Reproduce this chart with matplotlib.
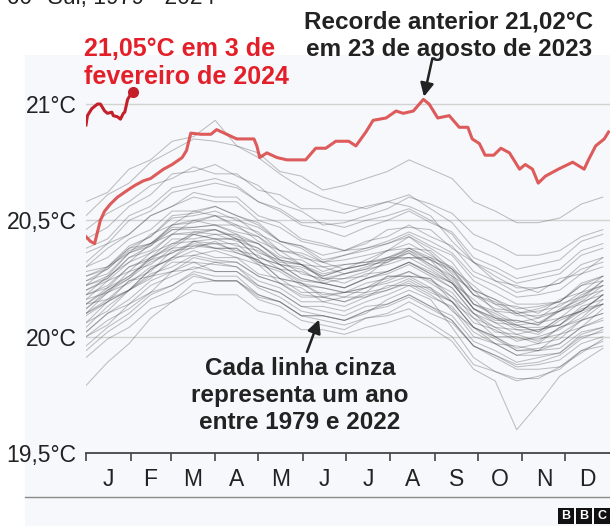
import numpy as np
import matplotlib.pyplot as plt
from matplotlib.patches import Rectangle
from matplotlib.lines import Line2D

plt.rcParams['font.family'] = ['Liberation Sans', 'DejaVu Sans']

# --- DATA ---
# grey years, sampled every 15 days
GRAY_DAYS = [0, 15, 30, 45, 60, 75, 90, 105, 120, 135, 150, 165, 180,
             195, 210, 225, 240, 255, 270, 285, 300, 315, 330, 345, 360]

sst_1979 = [20.09, 20.15, 20.20, 20.27, 20.30, 20.35, 20.33, 20.32, 20.26, 20.23, 20.17, 20.17, 20.15, 20.19, 20.21, 20.25, 20.20, 20.15, 20.04, 20.00, 19.94, 19.95, 19.97, 20.04, 20.07]
sst_1980 = [20.14, 20.20, 20.25, 20.32, 20.36, 20.40, 20.38, 20.38, 20.32, 20.29, 20.24, 20.23, 20.21, 20.25, 20.28, 20.32, 20.28, 20.23, 20.12, 20.08, 20.05, 20.02, 20.08, 20.11, 20.18]
sst_1981 = [20.02, 20.10, 20.14, 20.22, 20.26, 20.30, 20.28, 20.28, 20.22, 20.19, 20.13, 20.13, 20.11, 20.15, 20.18, 20.22, 20.17, 20.13, 20.02, 19.97, 19.92, 19.92, 19.93, 20.00, 20.02]
sst_1982 = [19.96, 20.04, 20.10, 20.18, 20.22, 20.28, 20.26, 20.26, 20.18, 20.15, 20.09, 20.07, 20.05, 20.08, 20.09, 20.12, 20.06, 20.00, 19.88, 19.85, 19.81, 19.83, 19.86, 19.94, 19.98]
sst_1983 = [20.06, 20.15, 20.20, 20.29, 20.34, 20.39, 20.38, 20.36, 20.33, 20.25, 20.23, 20.18, 20.19, 20.21, 20.24, 20.28, 20.24, 20.19, 20.08, 20.04, 19.99, 19.99, 20.01, 20.07, 20.10]
sst_1984 = [20.14, 20.16, 20.24, 20.26, 20.32, 20.32, 20.31, 20.30, 20.24, 20.21, 20.15, 20.15, 20.13, 20.17, 20.20, 20.24, 20.19, 20.15, 20.04, 19.99, 19.94, 19.94, 19.95, 20.02, 20.04]
sst_1985 = [19.79, 19.89, 19.97, 20.08, 20.15, 20.23, 20.24, 20.24, 20.16, 20.13, 20.07, 20.05, 20.03, 20.08, 20.10, 20.15, 20.10, 20.06, 19.96, 19.91, 19.86, 19.86, 19.87, 19.94, 19.96]
sst_1986 = [20.00, 20.07, 20.12, 20.19, 20.22, 20.27, 20.24, 20.24, 20.17, 20.15, 20.09, 20.09, 20.07, 20.11, 20.13, 20.17, 20.12, 20.07, 19.96, 19.92, 19.87, 19.88, 19.90, 19.97, 20.00]
sst_1987 = [20.18, 20.21, 20.30, 20.33, 20.40, 20.41, 20.42, 20.39, 20.37, 20.31, 20.30, 20.26, 20.29, 20.31, 20.32, 20.36, 20.31, 20.25, 20.14, 20.09, 20.04, 20.04, 20.05, 20.12, 20.14]
sst_1988 = [20.06, 20.11, 20.20, 20.25, 20.34, 20.35, 20.37, 20.34, 20.31, 20.23, 20.21, 20.15, 20.17, 20.17, 20.22, 20.22, 20.21, 20.11, 20.04, 19.97, 19.96, 19.94, 20.01, 20.04, 20.12]
sst_1989 = [20.10, 20.16, 20.20, 20.26, 20.28, 20.32, 20.28, 20.28, 20.21, 20.17, 20.11, 20.09, 20.07, 20.11, 20.14, 20.18, 20.13, 20.09, 19.98, 19.94, 19.89, 19.91, 19.93, 20.01, 20.04]
sst_1990 = [20.20, 20.24, 20.32, 20.36, 20.44, 20.44, 20.46, 20.42, 20.38, 20.31, 20.29, 20.23, 20.25, 20.26, 20.33, 20.34, 20.34, 20.26, 20.20, 20.11, 20.10, 20.06, 20.11, 20.14, 20.20]
sst_1991 = [20.04, 20.13, 20.20, 20.29, 20.34, 20.41, 20.40, 20.40, 20.32, 20.29, 20.23, 20.21, 20.19, 20.23, 20.25, 20.28, 20.23, 20.17, 20.06, 20.03, 19.98, 20.00, 20.03, 20.10, 20.14]
sst_1992 = [19.91, 19.99, 20.04, 20.12, 20.15, 20.20, 20.18, 20.18, 20.11, 20.09, 20.03, 20.03, 20.01, 20.04, 20.06, 20.09, 20.04, 19.98, 19.86, 19.81, 19.60, 19.71, 19.83, 19.89, 19.95]
sst_1993 = [20.00, 20.05, 20.14, 20.19, 20.28, 20.29, 20.32, 20.30, 20.22, 20.19, 20.13, 20.11, 20.09, 20.13, 20.14, 20.18, 20.13, 20.07, 19.96, 19.92, 19.88, 19.89, 19.92, 19.99, 20.03]
sst_1994 = [19.94, 20.02, 20.08, 20.16, 20.20, 20.26, 20.24, 20.24, 20.18, 20.15, 20.09, 20.09, 20.07, 20.10, 20.16, 20.20, 20.16, 20.04, 19.91, 19.85, 19.82, 19.82, 19.87, 19.93, 19.99]
sst_1995 = [20.12, 20.19, 20.23, 20.30, 20.33, 20.37, 20.34, 20.34, 20.27, 20.25, 20.19, 20.19, 20.17, 20.21, 20.23, 20.26, 20.21, 20.15, 20.04, 20.00, 19.95, 19.97, 19.99, 20.07, 20.10]
sst_1996 = [20.10, 20.19, 20.25, 20.34, 20.39, 20.45, 20.44, 20.44, 20.36, 20.33, 20.27, 20.25, 20.23, 20.27, 20.28, 20.32, 20.27, 20.21, 20.10, 20.06, 20.01, 20.03, 20.05, 20.13, 20.16]
sst_1997 = [20.22, 20.26, 20.36, 20.40, 20.48, 20.50, 20.52, 20.48, 20.45, 20.37, 20.35, 20.30, 20.31, 20.32, 20.34, 20.37, 20.31, 20.26, 20.14, 20.11, 20.06, 20.08, 20.11, 20.18, 20.22]
sst_1998 = [20.24, 20.27, 20.36, 20.39, 20.46, 20.47, 20.48, 20.44, 20.40, 20.33, 20.31, 20.25, 20.27, 20.30, 20.33, 20.38, 20.34, 20.30, 20.20, 20.16, 20.10, 20.11, 20.13, 20.19, 20.22]
sst_1999 = [20.02, 20.10, 20.16, 20.24, 20.28, 20.34, 20.32, 20.32, 20.26, 20.23, 20.18, 20.17, 20.15, 20.18, 20.20, 20.23, 20.18, 20.12, 20.00, 19.97, 19.92, 19.94, 19.97, 20.04, 20.08]
sst_2000 = [20.10, 20.15, 20.24, 20.28, 20.37, 20.38, 20.41, 20.36, 20.33, 20.25, 20.23, 20.17, 20.19, 20.19, 20.26, 20.26, 20.25, 20.17, 20.10, 20.02, 20.01, 19.98, 20.04, 20.07, 20.14]
sst_2001 = [20.16, 20.19, 20.28, 20.31, 20.38, 20.39, 20.40, 20.37, 20.35, 20.29, 20.28, 20.24, 20.27, 20.29, 20.31, 20.34, 20.29, 20.23, 20.12, 20.06, 20.05, 20.02, 20.08, 20.11, 20.18]
sst_2002 = [20.18, 20.26, 20.32, 20.40, 20.44, 20.50, 20.48, 20.48, 20.41, 20.37, 20.31, 20.30, 20.27, 20.29, 20.34, 20.34, 20.33, 20.23, 20.16, 20.08, 20.07, 20.05, 20.11, 20.15, 20.22]
sst_2003 = [20.26, 20.29, 20.37, 20.40, 20.47, 20.47, 20.48, 20.45, 20.43, 20.37, 20.36, 20.32, 20.35, 20.37, 20.40, 20.44, 20.39, 20.35, 20.24, 20.19, 20.14, 20.14, 20.15, 20.22, 20.24]
sst_2004 = [20.16, 20.24, 20.28, 20.36, 20.40, 20.44, 20.42, 20.42, 20.34, 20.31, 20.25, 20.23, 20.21, 20.25, 20.27, 20.31, 20.26, 20.21, 20.10, 20.04, 20.03, 20.01, 20.07, 20.11, 20.18]
sst_2005 = [20.24, 20.29, 20.38, 20.43, 20.52, 20.53, 20.56, 20.52, 20.48, 20.41, 20.38, 20.32, 20.33, 20.35, 20.37, 20.40, 20.35, 20.29, 20.18, 20.15, 20.10, 20.12, 20.15, 20.22, 20.26]
sst_2006 = [20.28, 20.30, 20.38, 20.40, 20.46, 20.46, 20.46, 20.43, 20.40, 20.34, 20.33, 20.28, 20.31, 20.32, 20.33, 20.36, 20.30, 20.24, 20.12, 20.07, 20.07, 20.05, 20.12, 20.16, 20.24]
sst_2007 = [20.14, 20.21, 20.26, 20.33, 20.36, 20.41, 20.38, 20.38, 20.31, 20.28, 20.22, 20.21, 20.19, 20.21, 20.26, 20.26, 20.25, 20.15, 20.08, 20.00, 20.00, 19.97, 20.04, 20.08, 20.16]
sst_2008 = [20.18, 20.22, 20.30, 20.34, 20.42, 20.42, 20.44, 20.41, 20.38, 20.32, 20.31, 20.26, 20.29, 20.33, 20.37, 20.43, 20.36, 20.27, 20.14, 20.10, 20.05, 20.06, 20.08, 20.15, 20.18]
sst_2009 = [20.22, 20.30, 20.36, 20.44, 20.48, 20.54, 20.52, 20.51, 20.44, 20.40, 20.34, 20.32, 20.29, 20.31, 20.37, 20.38, 20.37, 20.29, 20.22, 20.14, 20.13, 20.10, 20.16, 20.19, 20.26]
sst_2010 = [20.22, 20.25, 20.34, 20.37, 20.44, 20.45, 20.46, 20.42, 20.40, 20.33, 20.31, 20.27, 20.29, 20.31, 20.34, 20.38, 20.33, 20.29, 20.18, 20.14, 20.09, 20.09, 20.11, 20.17, 20.20]
sst_2011 = [20.12, 20.20, 20.26, 20.34, 20.38, 20.44, 20.42, 20.42, 20.34, 20.31, 20.25, 20.23, 20.21, 20.25, 20.28, 20.32, 20.27, 20.23, 20.12, 20.08, 20.03, 20.03, 20.05, 20.11, 20.14]
sst_2012 = [20.26, 20.30, 20.39, 20.43, 20.51, 20.52, 20.54, 20.50, 20.47, 20.41, 20.39, 20.35, 20.37, 20.38, 20.40, 20.43, 20.38, 20.32, 20.20, 20.16, 20.12, 20.13, 20.15, 20.23, 20.26]
sst_2013 = [20.20, 20.25, 20.34, 20.39, 20.48, 20.49, 20.52, 20.47, 20.43, 20.35, 20.31, 20.25, 20.25, 20.28, 20.32, 20.37, 20.33, 20.28, 20.18, 20.12, 20.11, 20.08, 20.14, 20.17, 20.24]
sst_2014 = [20.30, 20.34, 20.42, 20.46, 20.54, 20.54, 20.56, 20.52, 20.49, 20.41, 20.39, 20.33, 20.35, 20.38, 20.41, 20.45, 20.41, 20.36, 20.26, 20.22, 20.17, 20.18, 20.20, 20.27, 20.30]
sst_2015 = [20.32, 20.40, 20.44, 20.52, 20.56, 20.60, 20.58, 20.58, 20.50, 20.47, 20.41, 20.39, 20.37, 20.41, 20.43, 20.48, 20.43, 20.39, 20.28, 20.24, 20.19, 20.21, 20.23, 20.31, 20.34]
sst_2016 = [20.58, 20.62, 20.72, 20.76, 20.84, 20.86, 20.93, 20.82, 20.77, 20.70, 20.64, 20.60, 20.57, 20.55, 20.58, 20.56, 20.52, 20.41, 20.32, 20.24, 20.22, 20.19, 20.25, 20.27, 20.34]
sst_2017 = [20.38, 20.42, 20.52, 20.56, 20.64, 20.66, 20.68, 20.65, 20.58, 20.54, 20.48, 20.46, 20.43, 20.47, 20.50, 20.54, 20.49, 20.45, 20.34, 20.30, 20.25, 20.27, 20.29, 20.37, 20.40]
sst_2018 = [20.30, 20.38, 20.44, 20.52, 20.56, 20.62, 20.60, 20.60, 20.52, 20.49, 20.42, 20.40, 20.37, 20.40, 20.46, 20.47, 20.46, 20.38, 20.32, 20.26, 20.21, 20.21, 20.23, 20.29, 20.32]
sst_2019 = [20.42, 20.47, 20.56, 20.61, 20.70, 20.71, 20.74, 20.69, 20.65, 20.57, 20.54, 20.48, 20.49, 20.52, 20.55, 20.60, 20.57, 20.53, 20.44, 20.40, 20.35, 20.35, 20.37, 20.43, 20.46]
sst_2020 = [20.46, 20.53, 20.58, 20.65, 20.68, 20.73, 20.70, 20.70, 20.63, 20.61, 20.55, 20.55, 20.53, 20.56, 20.58, 20.61, 20.55, 20.49, 20.38, 20.34, 20.29, 20.31, 20.33, 20.41, 20.44]
sst_2021 = [20.36, 20.40, 20.50, 20.54, 20.62, 20.64, 20.66, 20.64, 20.58, 20.55, 20.49, 20.49, 20.47, 20.50, 20.52, 20.55, 20.50, 20.44, 20.32, 20.28, 20.23, 20.25, 20.27, 20.35, 20.38]
sst_2022 = [20.52, 20.61, 20.66, 20.75, 20.80, 20.85, 20.84, 20.82, 20.79, 20.71, 20.69, 20.63, 20.65, 20.68, 20.71, 20.76, 20.72, 20.68, 20.58, 20.54, 20.49, 20.49, 20.51, 20.57, 20.60]

GRAY_YEARS = [sst_1979, sst_1980, sst_1981, sst_1982, sst_1983, sst_1984, sst_1985,
              sst_1986, sst_1987, sst_1988, sst_1989, sst_1990, sst_1991, sst_1992,
              sst_1993, sst_1994, sst_1995, sst_1996, sst_1997, sst_1998, sst_1999,
              sst_2000, sst_2001, sst_2002, sst_2003, sst_2004, sst_2005, sst_2006,
              sst_2007, sst_2008, sst_2009, sst_2010, sst_2011, sst_2012, sst_2013,
              sst_2014, sst_2015, sst_2016, sst_2017, sst_2018, sst_2019, sst_2020,
              sst_2021, sst_2022]

days_2023 = [0, 3, 6, 10, 13, 17, 22, 29, 34, 40, 45, 54, 60, 67, 70, 73, 80, 87, 91, 98,
             105, 112, 117, 119, 121, 126, 133, 140, 144, 149, 153, 160, 167, 174, 183, 188,
             195, 200, 209, 216, 221, 228, 235, 239, 245, 253, 260, 266, 269, 274, 278, 284,
             289, 295, 302, 306, 311, 315, 320, 329, 339, 347, 350, 355, 361, 364]
sst_2023 = [20.43, 20.41, 20.40, 20.50, 20.54, 20.57, 20.60, 20.63, 20.65, 20.67, 20.68, 20.72,
            20.74, 20.77, 20.80, 20.875, 20.87, 20.87, 20.89, 20.87, 20.85, 20.85, 20.85, 20.82,
            20.77, 20.79, 20.77, 20.76, 20.76, 20.76, 20.76, 20.81, 20.81, 20.84, 20.84, 20.82,
            20.88, 20.93, 20.94, 20.97, 20.96, 20.97, 21.02, 21.00, 20.94, 20.95, 20.90, 20.90,
            20.85, 20.83, 20.78, 20.78, 20.81, 20.79, 20.72, 20.74, 20.72, 20.66, 20.69, 20.72,
            20.75, 20.72, 20.76, 20.82, 20.85, 20.88]

days_2024 = [0, 1, 4, 8, 10, 13, 15, 18, 19, 22, 24, 26, 27, 29, 31, 33]
sst_2024 = [20.91, 20.95, 20.98, 21.00, 21.00, 20.97, 20.96, 20.965, 20.95, 20.945, 20.935,
            20.96, 20.965, 21.02, 21.04, 21.05]

MONTH_STARTS = [0, 31, 59, 90, 120, 151, 181, 212, 243, 273, 304, 334, 365]
MONTH_LABELS = ["J", "F", "M", "A", "M", "J", "J", "A", "S", "O", "N", "D"]
Y_TICKS = [19.5, 20.0, 20.5, 21.0]
Y_LABELS = ["19,5°C", "20°C", "20,5°C", "21°C"]

# --- LAYOUT HELPERS (pixel -> figure fraction) ---
W, H = 610, 526
def fx(px):
    return px / W
def fy(py):
    return 1 - py / H

BG = '#f6f8fb'
DARK = '#222222'
RED_TXT = '#e3202a'

fig = plt.figure(figsize=(6.1, 5.26), dpi=100)
fig.patch.set_facecolor('white')
fig.add_artist(Rectangle((fx(25), 0), 1 - fx(25), fy(55), transform=fig.transFigure,
                         facecolor=BG, edgecolor='none', zorder=0))

ax = fig.add_axes([fx(86), fy(453), 1 - fx(86), fy(57.5) - fy(453)])
ax.patch.set_alpha(0)

for y in Y_TICKS[1:]:
    ax.axhline(y, color='#d2d2d2', lw=1, zorder=1)

for vals in GRAY_YEARS:
    ax.plot(GRAY_DAYS, vals, color='#444444', lw=0.75, alpha=0.33, zorder=2)

ax.plot(days_2023, sst_2023, color='#dc4a4a', lw=2.2, alpha=0.9, zorder=4,
        solid_joinstyle='round')
ax.plot(days_2024, sst_2024, color='#c4202a', lw=2.2, zorder=5, solid_joinstyle='round')
ax.plot(days_2024[-1], sst_2024[-1], 'o', ms=7, color='#c4202a', zorder=6)

ax.set_xlim(0, 365)
ax.set_ylim(19.5, 21.2)

for s in ['top', 'right', 'left']:
    ax.spines[s].set_visible(False)
ax.spines['bottom'].set_color('#444444')
ax.spines['bottom'].set_linewidth(1.3)

mids = [(a + b) / 2 for a, b in zip(MONTH_STARTS[:-1], MONTH_STARTS[1:])]
ax.set_xticks(mids)
ax.set_xticklabels(MONTH_LABELS)
ax.set_xticks(MONTH_STARTS[:-1], minor=True)
ax.tick_params(axis='x', which='major', length=0, pad=11, labelsize=16.5, labelcolor=DARK)
ax.tick_params(axis='x', which='minor', length=6, width=1.2, color='#444444', direction='out')

ax.set_yticks(Y_TICKS)
ax.set_yticklabels(Y_LABELS)
ax.tick_params(axis='y', length=0, pad=7, labelsize=16.5, labelcolor=DARK)

# --- ANNOTATIONS ---
fig.text(fx(84), fy(37), "21,05°C em 3 de\nfevereiro de 2024", color=RED_TXT,
         fontsize=18, fontweight='bold', ha='left', va='top', linespacing=1.2)
fig.text(fx(449), fy(11), "Recorde anterior 21,02°C\nem 23 de agosto de 2023", color=DARK,
         fontsize=17.5, fontweight='bold', ha='center', va='top', linespacing=1.2)
fig.text(fx(300), fy(357), "Cada linha cinza\nrepresenta um ano\nentre 1979 e 2022",
         color=DARK, fontsize=17.5, fontweight='bold', ha='center', va='top',
         linespacing=1.22)

arrow = dict(arrowstyle='-|>', color=DARK, lw=1.8, mutation_scale=20, shrinkA=0, shrinkB=2)
ax.annotate('', xy=(235, 21.02), xytext=(6.5, 29.5), textcoords='offset points',
            arrowprops=arrow)
ax.annotate('', xy=(163, 20.085), xytext=(-9.4, -25.2), textcoords='offset points',
            arrowprops=arrow)

# title line, cropped at the top edge as in the source image
fig.text(fx(215), fy(4), "60° Norte-60° Sul, 1979 - 2024", color=DARK, fontsize=16.5,
         ha='right', va='baseline')

# footer rule and logo
fig.add_artist(Line2D([fx(25), 1], [fy(497), fy(497)], color='#8a8a8a', lw=1))
for i, letter in enumerate("BBC"):
    x0 = 558 + i * 18
    fig.add_artist(Rectangle((fx(x0), fy(524)), 16 / W, 16 / H, transform=fig.transFigure,
                             facecolor='#111111', edgecolor='none'))
    fig.text(fx(x0 + 8), fy(516), letter, color='white', fontsize=9, fontweight='bold',
             ha='center', va='center')

fig.savefig("out.png", dpi=100, facecolor=fig.get_facecolor())
